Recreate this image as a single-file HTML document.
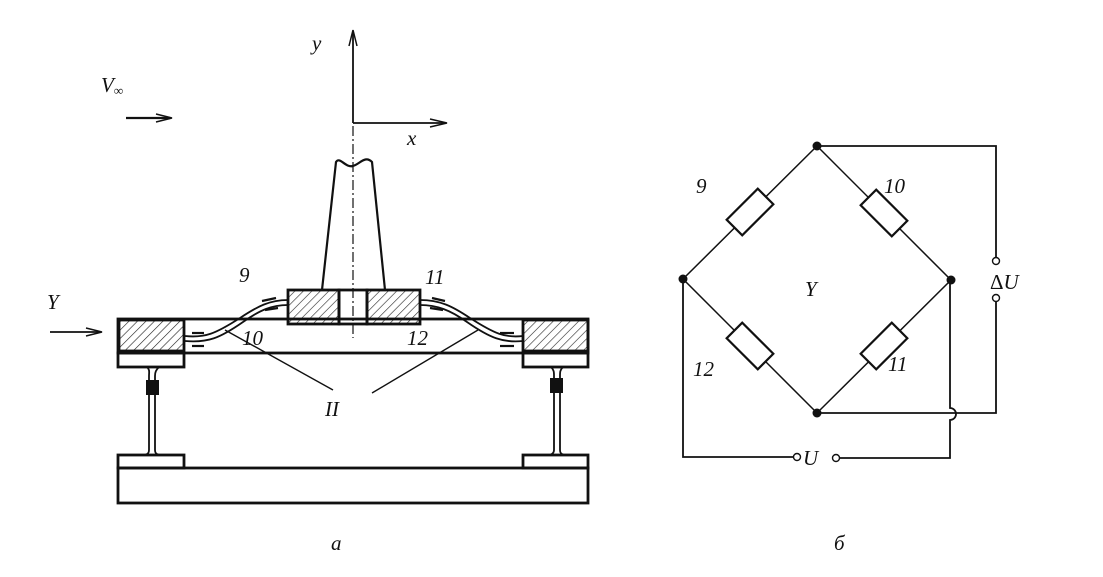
<!DOCTYPE html>
<html><head><meta charset="utf-8"><style>
html,body{margin:0;padding:0;background:#fff}
svg text{font-family:"Liberation Serif",serif;font-style:italic;font-size:21px;fill:#111}
</style></head><body>
<svg width="1103" height="572" viewBox="0 0 1103 572" xmlns="http://www.w3.org/2000/svg">
<defs>
<pattern id="h" width="6" height="6" patternUnits="userSpaceOnUse" patternTransform="rotate(45)">
<line x1="0" y1="0" x2="0" y2="6" stroke="#222" stroke-width="1.2"/>
</pattern>
</defs>
<g stroke="#111" fill="none">
<line x1="353" y1="123" x2="353" y2="32" stroke-width="1.8"/>
<path d="M349,46 L353,30 L357,46" stroke-width="1.5"/>
<line x1="353" y1="123" x2="445" y2="123" stroke-width="1.8"/>
<path d="M430,119 L447,123 L430,127" stroke-width="1.5"/>
<line x1="353" y1="126" x2="353" y2="338" stroke-width="1.2" stroke-dasharray="10,3,2,3"/>
<line x1="126" y1="118" x2="170" y2="118" stroke-width="2.2"/>
<path d="M156,114 L172,118 L156,122" stroke-width="1.5"/>
<line x1="50" y1="332" x2="100" y2="332" stroke-width="1.8"/>
<path d="M86,328 L102,332 L86,336" stroke-width="1.5"/>
<path d="M322,290 L336,162 C340,156 345,168 353,166 C360,164 365,155 372,162 L385,290" stroke-width="2.2"/>
<rect x="288" y="290" width="51" height="34" fill="url(#h)" stroke-width="2.8"/>
<rect x="367" y="290" width="53" height="34" fill="url(#h)" stroke-width="2.8"/>
<rect x="339" y="290" width="28" height="34" stroke-width="2.8"/>
<rect x="118" y="319" width="470" height="34" stroke-width="2.8"/>
<rect x="119" y="320" width="65" height="31" fill="url(#h)" stroke-width="2.8"/>
<rect x="523" y="320" width="65" height="31" fill="url(#h)" stroke-width="2.8"/>
<rect x="118" y="353" width="66" height="14" stroke-width="2.8"/>
<rect x="523" y="353" width="65" height="14" stroke-width="2.8"/>
<path d="M147,367 C150,370 149,372 149,376 L149,450 C149,453 148,454 145,455" stroke-width="1.8"/>
<path d="M159,367 C156,370 155,372 155,376 L155,450 C155,453 156,454 159,455" stroke-width="1.8"/>
<rect x="146" y="380" width="13" height="15" fill="#111" stroke="none"/>
<path d="M551,367 C554,370 554,372 554,376 L554,450 C554,453 552,454 550,455" stroke-width="1.8"/>
<path d="M563,367 C560,370 560,372 560,376 L560,450 C560,453 561,454 564,455" stroke-width="1.8"/>
<rect x="550" y="378" width="13" height="15" fill="#111" stroke="none"/>
<rect x="118" y="455" width="66" height="13" stroke-width="2.8"/>
<rect x="523" y="455" width="65" height="13" stroke-width="2.8"/>
<rect x="118" y="468" width="470" height="35" stroke-width="2.8"/>
<path d="M185,336 C205,338 215,334 240,318 C258,306 270,300 288,300" stroke-width="1.8"/>
<path d="M185,341 C208,343 220,338 243,322 C260,310 272,305 288,305" stroke-width="1.8"/>
<path d="M420,300 C440,300 452,306 470,318 C495,334 505,338 523,336" stroke-width="1.8"/>
<path d="M420,305 C437,305 450,310 467,322 C490,338 503,343 523,341" stroke-width="1.8"/>
<g stroke-width="2.2">
<line x1="192" y1="333" x2="204" y2="333"/><line x1="192" y1="346" x2="204" y2="346"/>
<line x1="262" y1="301" x2="276" y2="298"/><line x1="265" y1="310" x2="278" y2="308"/>
<line x1="432" y1="298" x2="445" y2="301"/><line x1="430" y1="308" x2="443" y2="310"/>
<line x1="500" y1="333" x2="514" y2="333"/><line x1="500" y1="346" x2="514" y2="346"/>
</g>
<line x1="225" y1="330" x2="333" y2="390" stroke-width="1.4"/>
<line x1="372" y1="393" x2="478" y2="330" stroke-width="1.4"/>
<path d="M817,146 L683,279 L817,413 L951,280 Z" stroke-width="1.5"/>
<path d="M817,146 L996,146 L996,257 M996,300 L996,413 L817,413" stroke-width="1.8"/>
<path d="M683,279 L683,457 L793,457 M839,458 L950,458 L950,420 A5,5 0 0 0 950,408 L950,280" stroke-width="1.8"/>
<circle cx="996" cy="261" r="3.5" fill="#fff" stroke-width="1.4"/>
<circle cx="996" cy="298" r="3.5" fill="#fff" stroke-width="1.4"/>
<circle cx="797" cy="457" r="3.5" fill="#fff" stroke-width="1.4"/>
<circle cx="836" cy="458" r="3.5" fill="#fff" stroke-width="1.4"/>
<g fill="#111" stroke="none">
<circle cx="817" cy="146" r="4.5"/><circle cx="683" cy="279" r="4.5"/>
<circle cx="951" cy="280" r="4.5"/><circle cx="817" cy="413" r="4.5"/>
</g>
<g fill="#fff" stroke-width="2.2">
<rect x="-22" y="-11" width="44" height="22" transform="translate(750,212) rotate(-45)"/>
<rect x="-22" y="-11" width="44" height="22" transform="translate(884,213) rotate(45)"/>
<rect x="-22" y="-11" width="44" height="22" transform="translate(750,346) rotate(45)"/>
<rect x="-22" y="-11" width="44" height="22" transform="translate(884,346) rotate(-45)"/>
</g>
</g>
<text x="312" y="50">y</text>
<text x="407" y="145">x</text>
<text x="101" y="92">V<tspan font-size="13" dy="3">∞</tspan></text>
<text x="47" y="309">Y</text>
<text x="239" y="282">9</text>
<text x="425" y="284">11</text>
<text x="242" y="345">10</text>
<text x="407" y="345">12</text>
<text x="325" y="416">II</text>
<text x="331" y="550">а</text>
<text x="834" y="550">б</text>
<text x="696" y="193">9</text>
<text x="884" y="193">10</text>
<text x="805" y="296">Y</text>
<text x="693" y="376">12</text>
<text x="888" y="371">11</text>
<text x="990" y="289" style="font-style:normal">Δ<tspan style="font-style:italic">U</tspan></text>
<text x="803" y="465">U</text>
</svg>
</body></html>
